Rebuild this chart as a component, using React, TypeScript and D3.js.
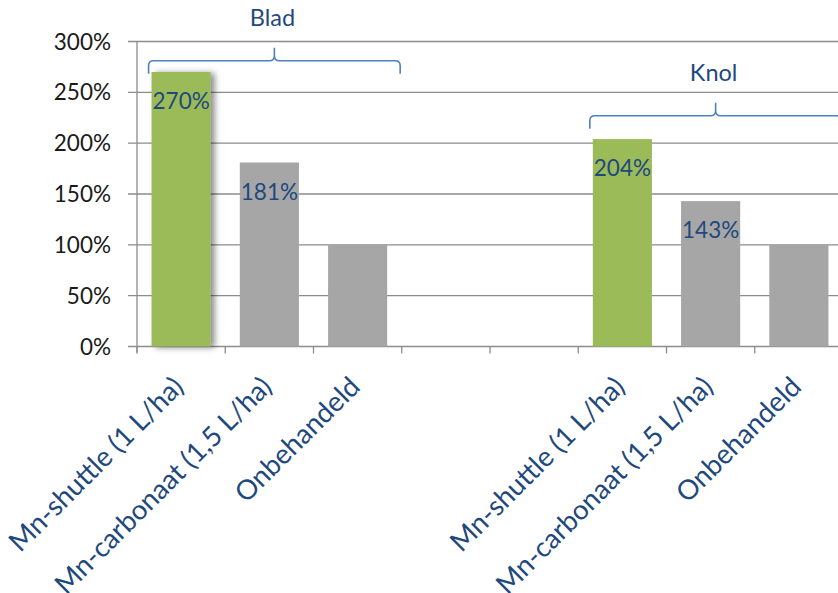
import React, { useEffect, useRef } from 'react';
import * as d3 from 'd3';

const categories = [
  'Mn-shuttle (1 L/ha)', 'Mn-carbonaat (1,5 L/ha)', 'Onbehandeld', '', '',
  'Mn-shuttle (1 L/ha)', 'Mn-carbonaat (1,5 L/ha)', 'Onbehandeld',
];
const values = [2.7, 1.81, 1.0, null, null, 2.04, 1.43, 1.0];
const valueLabels = ['270%', '181%', '', '', '', '204%', '143%', ''];
const barColors = ['#9BBB59', '#A6A6A6', '#A6A6A6', '', '', '#9BBB59', '#A6A6A6', '#A6A6A6'];
const yTicks = [0, 0.5, 1, 1.5, 2, 2.5, 3];
const groups = [
  { name: 'Blad', from: 0, to: 2, level: 2.81 },
  { name: 'Knol', from: 5, to: 7, level: 2.27 },
];

const App: React.FC = () => {
  const ref = useRef<SVGSVGElement>(null);

  useEffect(() => {
    const W = 838, H = 593;
    const margin = { top: 41.5, left: 137, bottom: 247 };
    const plotRight = 843;
    const svg = d3.select(ref.current);
    svg.selectAll('*').remove();
    const font = 'Lato, "Open Sans", sans-serif';

    const x = d3.scaleBand<number>().domain(d3.range(categories.length)).range([margin.left, plotRight]);
    const y = d3.scaleLinear().domain([0, 3]).range([H - margin.bottom + 0.5, margin.top]);

    const defs = svg.append('defs');
    const f = defs.append('filter').attr('id', 'shadow').attr('x', '-20%').attr('y', '-5%').attr('width', '150%').attr('height', '110%');
    f.append('feGaussianBlur').attr('in', 'SourceAlpha').attr('stdDeviation', 3);
    f.append('feOffset').attr('dx', 4).attr('dy', 1).attr('result', 'b');
    f.append('feComponentTransfer').append('feFuncA').attr('type', 'linear').attr('slope', 0.45);
    const m = f.append('feMerge');
    m.append('feMergeNode');
    m.append('feMergeNode').attr('in', 'SourceGraphic');

    // gridlines
    svg.append('g').selectAll('line').data(yTicks).enter().append('line')
      .attr('x1', margin.left - 9).attr('x2', W)
      .attr('y1', d => y(d)).attr('y2', d => y(d))
      .attr('stroke', '#8C8C8C').attr('stroke-width', 1.3);

    // y labels
    svg.append('g').selectAll('text').data(yTicks).enter().append('text')
      .attr('x', margin.left - 26).attr('y', d => y(d)).attr('dy', '0.36em')
      .attr('text-anchor', 'end').attr('font-family', font).attr('font-size', 22.5).attr('fill', '#1a1a1a')
      .text(d => d3.format('.0%')(d));

    // bars
    const bw = x.bandwidth() * 0.67;
    const bars = categories.map((c, i) => ({ i, v: values[i], color: barColors[i], label: valueLabels[i] })).filter(d => d.v != null);
    svg.append('g').selectAll('rect').data(bars).enter().append('rect')
      .attr('x', d => x(d.i)! + (x.bandwidth() - bw) / 2)
      .attr('width', bw)
      .attr('y', d => y(d.v as number))
      .attr('height', d => y(0) - y(d.v as number))
      .attr('fill', d => d.color)
      .attr('filter', d => (d.i === 0 ? 'url(#shadow)' : null));

    svg.append('g').selectAll('text').data(bars.filter(d => d.label)).enter().append('text')
      .attr('x', d => x(d.i)! + x.bandwidth() / 2)
      .attr('y', d => y(d.v as number) + 29).attr('dy', '0.36em')
      .attr('text-anchor', 'middle').attr('font-family', font).attr('font-size', 22.5).attr('fill', '#1F497D')
      .text(d => d.label);

    // axes
    svg.append('line').attr('x1', margin.left).attr('x2', margin.left).attr('y1', margin.top).attr('y2', y(0) + 6)
      .attr('stroke', '#8C8C8C').attr('stroke-width', 1.3);
    const ticks = d3.range(categories.length + 1).map(i => margin.left + i * x.step());
    svg.append('g').selectAll('line').data(ticks).enter().append('line')
      .attr('x1', d => d).attr('x2', d => d).attr('y1', y(0)).attr('y2', y(0) + 7)
      .attr('stroke', '#8C8C8C').attr('stroke-width', 1.3);

    // category labels
    svg.append('g').selectAll('text').data(categories.map((c, i) => ({ c, i })).filter(d => d.c)).enter().append('text')
      .attr('transform', d => `translate(${x(d.i)! + x.bandwidth() / 2 + 4},${y(0) + 42}) rotate(-45)`)
      .attr('text-anchor', 'end')
      .attr('font-family', font).attr('font-size', 27.5).attr('fill', '#1F497D')
      .text(d => d.c);

    // group braces
    groups.forEach(g => {
      const x0 = x(g.from)! + (x.bandwidth() - bw) / 2 - 3;
      const x1 = x(g.to)! + x.bandwidth() - (x.bandwidth() - bw) / 2 + 13;
      const xm = (x0 + x1) / 2;
      const yb = y(g.level);
      const r = 5;
      const p = d3.path();
      p.moveTo(x0, yb + 13);
      p.lineTo(x0, yb + r);
      p.quadraticCurveTo(x0, yb, x0 + r, yb);
      p.lineTo(xm - r, yb);
      p.quadraticCurveTo(xm, yb, xm, yb - r);
      p.lineTo(xm, yb - 13);
      p.moveTo(xm, yb - r);
      p.quadraticCurveTo(xm, yb, xm + r, yb);
      p.lineTo(x1 - r, yb);
      p.quadraticCurveTo(x1, yb, x1, yb + r);
      p.lineTo(x1, yb + 13);
      svg.append('path').attr('d', p.toString()).attr('fill', 'none').attr('stroke', '#4F81BD').attr('stroke-width', 1.6);
      svg.append('text').attr('x', xm - 2).attr('y', yb - 43).attr('dy', '0.36em')
        .attr('text-anchor', 'middle').attr('font-family', font).attr('font-size', 23.5).attr('fill', '#1F497D')
        .text(g.name);
    });
  }, []);

  return (
    <div style={{ position: 'absolute', left: 0, top: 0, width: 838, height: 593, background: '#fff', overflow: 'hidden' }}>
      <svg ref={ref} width={838} height={593} style={{ display: 'block' }} />
    </div>
  );
};

export default App;
